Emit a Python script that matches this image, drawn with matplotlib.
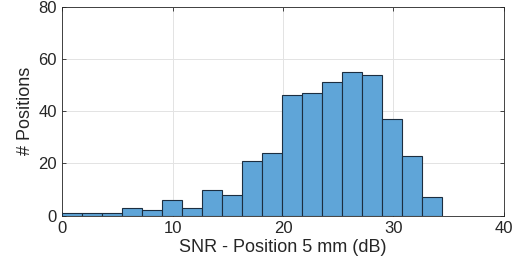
import matplotlib; matplotlib.use("Agg")
import matplotlib.pyplot as plt
import numpy as np

# histogram of SNR at position 5 mm (MATLAB auto bins, width ~1.81 dB)
bin_edges=[0,1.81,3.62,5.43,7.24,9.05,10.86,12.67,14.48,16.29,18.10,19.91,21.72,23.53,25.34,27.15,28.96,30.77,32.58,34.39]
counts=[1,1,1,3,2,6,3,10,8,21,24,46,47,51,55,54,37,23,7]
xticks=[0,10,20,30,40]
yticks=[0,20,40,60,80]

plt.rcParams["font.family"]=["Liberation Sans","DejaVu Sans"]
fig=plt.figure(figsize=(5.24,2.63),dpi=100)
ax=fig.add_axes([0.119,0.18,0.842,0.795])
edges=np.array(bin_edges)
ax.bar(edges[:-1],counts,width=np.diff(edges),align="edge",color="#5fa5d8",
       edgecolor="#1c2e40",linewidth=0.8,zorder=3)
ax.set_xlim(0,40); ax.set_ylim(0,80)
ax.set_xticks(xticks); ax.set_yticks(yticks)
ax.grid(True,color="#e3e3e3",linewidth=0.7,zorder=0)
ax.tick_params(direction="in",top=True,right=True,length=3,width=0.6,colors="#262626",labelsize=12,pad=4)
for s in ax.spines.values():
    s.set_color("#262626"); s.set_linewidth(0.6)
ax.set_xlabel("SNR - Position 5 mm (dB)",fontsize=13,color="#262626",labelpad=2)
ax.set_ylabel("# Positions",fontsize=13,color="#262626",labelpad=3)
fig.savefig("out.png",dpi=100)
